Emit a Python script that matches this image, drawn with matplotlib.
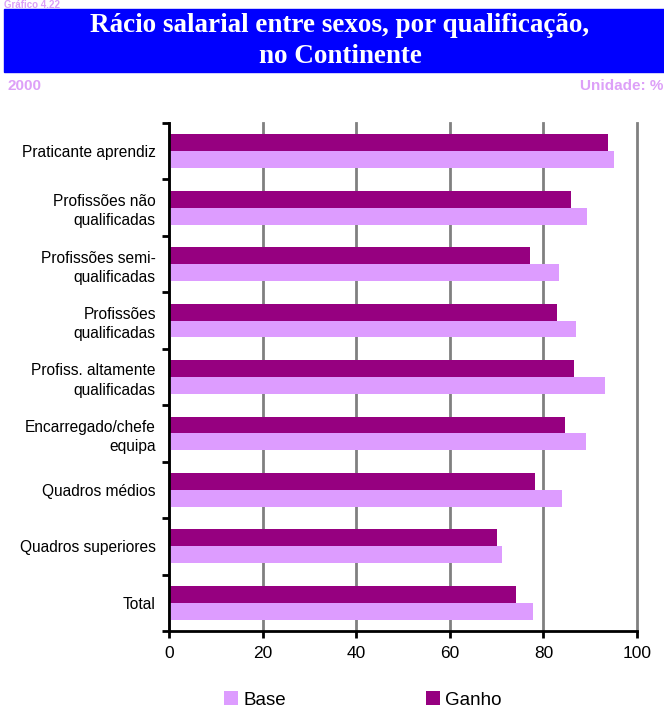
import numpy as np
import matplotlib.pyplot as plt
from matplotlib.patches import Rectangle

categories = ["Praticante aprendiz", "Profissões não\nqualificadas",
              "Profissões semi-\nqualificadas", "Profissões\nqualificadas",
              "Profiss. altamente\nqualificadas", "Encarregado/chefe\nequipa",
              "Quadros médios", "Quadros superiores", "Total"]
base = [95.1, 89.4, 83.4, 87.0, 93.2, 89.2, 84.0, 71.2, 77.8]
ganho = [93.8, 86.0, 77.2, 83.0, 86.6, 84.7, 78.3, 70.1, 74.2]
xticks = [0, 20, 40, 60, 80, 100]

c_base = "#dd9cff"
c_ganho = "#960080"
c_light = "#dda0f8"

fig = plt.figure(figsize=(6.64, 7.11), dpi=100)
W, H = 664, 711

# header band
fig.patches.append(Rectangle((4 / W, 1 - 72 / H), 660 / W, 63 / H,
                             transform=fig.transFigure, color="#0000ff", zorder=0))
fig.text(340 / W, 1 - 41 / H, "Rácio salarial entre sexos, por qualificação,\nno Continente",
         ha="center", va="center", color="white", fontsize=19.5, fontweight="bold",
         family="Liberation Serif", linespacing=1.35)
fig.text(4 / W, 1, "Gráfico 4.22", ha="left", va="top", color=c_light,
         fontsize=7, fontweight="bold", family="Liberation Sans")
fig.text(8 / W, 1 - 86 / H, "2000", ha="left", va="center", color=c_light,
         fontsize=11, fontweight="bold", family="Liberation Sans")
fig.text(663 / W, 1 - 86 / H, "Unidade: %", ha="right", va="center", color=c_light,
         fontsize=11, fontweight="bold", family="Liberation Sans")

ax = fig.add_axes([169 / W, 1 - 631 / H, 468 / W, 508 / H])
n = len(categories)
y = np.arange(n)
h = 0.3
ax.barh(y - h / 2, ganho, height=h, color=c_ganho, label="Ganho", zorder=3)
ax.barh(y + h / 2, base, height=h, color=c_base, label="Base", zorder=3)
ax.set_ylim(n - 0.5, -0.5)
ax.set_xlim(0, 100)
ax.set_xticks(xticks)
ax.set_yticks(y)
ax.set_yticklabels(categories, family="Liberation Sans", fontsize=11.2, linespacing=1.35)
ax.tick_params(axis="y", length=0, pad=9.5)
ax.set_yticks(np.arange(n + 1) - 0.5, minor=True)
ax.tick_params(axis="y", which="minor", length=5, width=2, direction="out")
ax.tick_params(axis="x", length=5, width=2, direction="out", labelsize=12.5, pad=6)
for lab in ax.get_xticklabels():
    lab.set_family("Liberation Sans")
ax.grid(axis="x", color="#808080", linewidth=2, zorder=0)
for line in ax.get_xgridlines():
    line.set_clip_on(False)
for s in ["top", "right"]:
    ax.spines[s].set_visible(False)
for s in ["left", "bottom"]:
    ax.spines[s].set_linewidth(2)
    ax.spines[s].set_zorder(4)

handles, labels = ax.get_legend_handles_labels()
fig.legend(handles[::-1], labels[::-1], loc="center", bbox_to_anchor=(363 / W, 1 - 700 / H),
           ncol=2, frameon=False, prop={"family": "Liberation Sans", "size": 13.5},
           handlelength=0.7, handleheight=0.7, handletextpad=0.3, columnspacing=7.5,
           borderaxespad=0)

fig.savefig("out.png", dpi=100)
